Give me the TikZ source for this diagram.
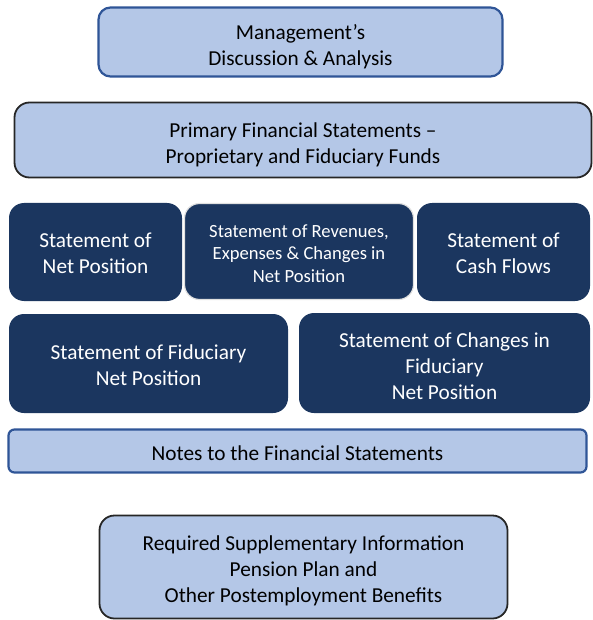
\documentclass[tikz,border=0pt]{standalone}
\usepackage{fontspec}
\setmainfont{Carlito}
\usepackage[rgb]{xcolor}
\usepackage{tikz}

\definecolor{paleblue}{HTML}{B4C7E7}
\definecolor{edgeblue}{HTML}{2F5597}
\definecolor{navy}{HTML}{1B365F}

\begin{document}
\begin{tikzpicture}[x=1pt, y=-1pt,
  lightbox/.style={fill=paleblue, draw=edgeblue, line width=2.2pt, rounded corners=12pt, inner sep=0pt},
  blackbox/.style={lightbox, draw=black!85, line width=1.8pt, rounded corners=15pt},
  darkbox/.style={fill=navy, draw=none, rounded corners=15pt, inner sep=0pt},
  darktext/.style={text=white, align=center, inner sep=0pt, font=\fontsize{21.3}{26}\selectfont},
  lighttext/.style={darktext, text=black}]

\useasboundingbox (0,0) rectangle (593,620);


% Discussion and analysis
\path 
(300.5,42) node [lightbox, minimum width=404pt, minimum height=69pt] (mda) {};
\node [lighttext] (mdatext) at ([yshift=-4.5pt]mda.center)
  {Management’s\\Discussion \& Analysis};



% Primary statements
\path 
(303,140) node [blackbox, minimum width=577pt, minimum height=75pt] (primary) {};
\node [lighttext] (primarytext) at ([yshift=-4.5pt]primary.center)
  {Primary Financial Statements --\\Proprietary and Fiduciary Funds};



% Proprietary funds row
\path 
(95.5,252) node [darkbox, minimum width=173pt, minimum height=98pt] (netpos) {};
\node [darktext] (netpostext) at ([yshift=-1.5pt]netpos.center)
  {Statement of\\Net Position};

\path 
(299,251.5) node [darkbox, draw=black!12, line width=1.2pt, minimum width=229pt,
  minimum height=96pt] (revexp) {};
\node [darktext, font=\fontsize{18.6}{22.5}\selectfont] (revexptext) at ([yshift=-2pt]revexp.center)
  {Statement of Revenues,\\Expenses \& Changes in\\Net Position};

\path 
(503.5,252) node [darkbox, minimum width=173pt, minimum height=98pt] (cashflow) {};
\node [darktext] (cashflowtext) at ([yshift=-1.5pt]cashflow.center)
  {Statement of\\Cash Flows};



% Fiduciary funds row
\path 
(148.5,363.5) node [darkbox, minimum width=279pt, minimum height=99pt] (fidnet) {};
\node [darktext] (fidnettext) at ([yshift=-1.5pt]fidnet.center)
  {Statement of Fiduciary\\Net Position};

\path 
(444.5,363) node [darkbox, minimum width=291pt, minimum height=100pt] (fidchange) {};
\node [darktext] (fidchangetext) at ([yshift=-3.5pt]fidchange.center)
  {Statement of Changes in\\Fiduciary\\Net Position};



% Notes
\path 
(297.5,451) node [lightbox, rounded corners=6pt, minimum width=578pt, minimum height=43pt] (notes) {};
\node [lighttext] (notestext) at ([yshift=-2pt]notes.center)
  {Notes to the Financial Statements};



% Supplementary information
\path 
(303.5,567) node [blackbox, minimum width=408pt, minimum height=103pt] (rsi) {};
\node [lighttext] (rsitext) at ([yshift=-4pt]rsi.center)
  {Required Supplementary Information\\Pension Plan and\\Other Postemployment Benefits};


\end{tikzpicture}
\end{document}
